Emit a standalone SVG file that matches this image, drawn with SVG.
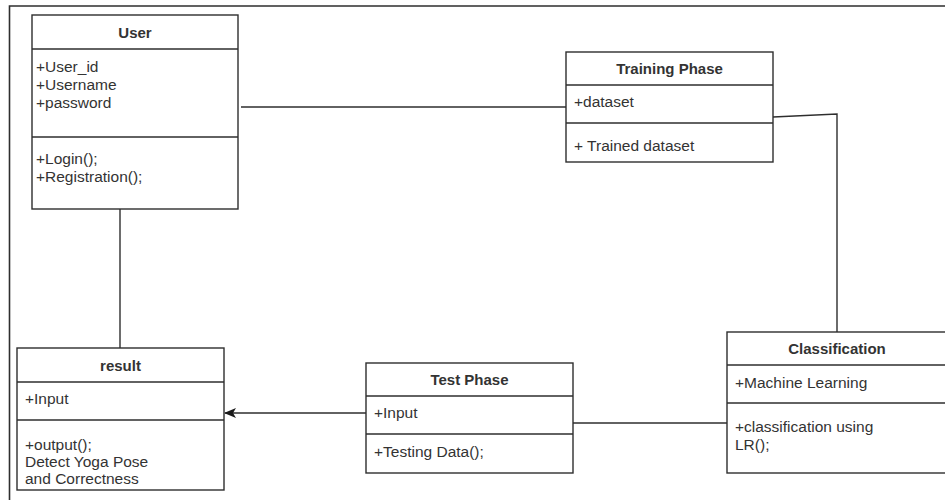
<svg xmlns="http://www.w3.org/2000/svg" width="945" height="500" viewBox="0 0 945 500">
  <style>
    .box { fill: #ffffff; stroke: #2e2e2e; stroke-width: 1.4; }
    .sep { stroke: #2e2e2e; stroke-width: 1.4; }
    .edge { fill: none; stroke: #2e2e2e; stroke-width: 1.4; }
    .title { font-family: "Liberation Sans", Arial, sans-serif; font-size: 15px; font-weight: bold; fill: #333333; text-anchor: middle; }
    .item { font-family: "Liberation Sans", Arial, sans-serif; font-size: 15.5px; fill: #333333; }
  </style>
  <defs>
    <marker id="arrow" viewBox="0 0 12 10" refX="11" refY="5" markerWidth="12" markerHeight="10" markerUnits="userSpaceOnUse" orient="auto">
      <path d="M0,0 L12,5 L0,10 L3,5 Z" fill="#1a1a1a"/>
    </marker>
  </defs>
  <rect width="945" height="500" fill="#ffffff"/>

  <!-- outer frame -->
  <path d="M9.5,500 V6 H945" fill="none" stroke="#2e2e2e" stroke-width="1.6"/>

  <!-- connectors -->
  <g id="connectors">
    <path class="edge" d="M241,107 H566"/>
    <path class="edge" d="M773,117 L837,114 V332"/>
    <path class="edge" d="M120,209 V348"/>
    <path class="edge" d="M573,423 H727"/>
    <path class="edge" d="M366,413 H225" marker-end="url(#arrow)"/>
  </g>

  <!-- User -->
  <g id="user">
    <rect class="box" x="32" y="15" width="206" height="194"/>
    <line class="sep" x1="32" y1="49" x2="238" y2="49"/>
    <line class="sep" x1="32" y1="137" x2="238" y2="137"/>
    <text class="title" x="135" y="38">User</text>
    <text class="item" x="36" y="72">+User_id</text>
    <text class="item" x="36" y="90">+Username</text>
    <text class="item" x="36" y="108">+password</text>
    <text class="item" x="36" y="164">+Login();</text>
    <text class="item" x="36" y="182">+Registration();</text>
  </g>

  <!-- Training Phase -->
  <g id="training-phase">
    <rect class="box" x="566" y="52" width="207" height="110"/>
    <line class="sep" x1="566" y1="85" x2="773" y2="85"/>
    <line class="sep" x1="566" y1="123" x2="773" y2="123"/>
    <text class="title" x="669.5" y="74">Training Phase</text>
    <text class="item" x="574" y="107">+dataset</text>
    <text class="item" x="574" y="151">+ Trained dataset</text>
  </g>

  <!-- result -->
  <g id="result">
    <rect class="box" x="17" y="348" width="207" height="142"/>
    <line class="sep" x1="17" y1="382" x2="224" y2="382"/>
    <line class="sep" x1="17" y1="420" x2="224" y2="420"/>
    <text class="title" x="120.5" y="371">result</text>
    <text class="item" x="25" y="404">+Input</text>
    <text class="item" x="25" y="450">+output();</text>
    <text class="item" x="25" y="467">Detect Yoga Pose</text>
    <text class="item" x="25" y="484">and Correctness</text>
  </g>

  <!-- Test Phase -->
  <g id="test-phase">
    <rect class="box" x="366" y="363" width="207" height="110"/>
    <line class="sep" x1="366" y1="396" x2="573" y2="396"/>
    <line class="sep" x1="366" y1="434" x2="573" y2="434"/>
    <text class="title" x="469.5" y="385">Test Phase</text>
    <text class="item" x="374" y="418">+Input</text>
    <text class="item" x="374" y="457">+Testing Data();</text>
  </g>

  <!-- Classification -->
  <g id="classification">
    <rect class="box" x="727" y="332" width="220" height="141"/>
    <line class="sep" x1="727" y1="365" x2="947" y2="365"/>
    <line class="sep" x1="727" y1="403" x2="947" y2="403"/>
    <text class="title" x="837" y="354">Classification</text>
    <text class="item" x="735" y="388">+Machine Learning</text>
    <text class="item" x="735" y="432">+classification using</text>
    <text class="item" x="735" y="450">LR();</text>
  </g>
</svg>
